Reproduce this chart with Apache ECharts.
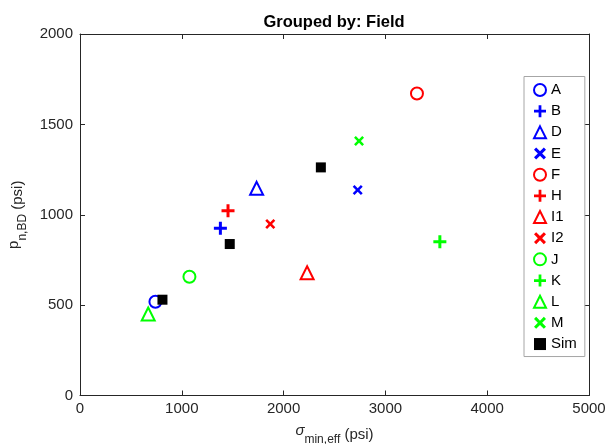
<!DOCTYPE html>
<html>
<head>
<meta charset="utf-8">
<script src="https://cdn.jsdelivr.net/npm/echarts@6/dist/echarts.min.js"></script>
<style>
  html, body { margin: 0; padding: 0; background: #fff; }
  #chart { width: 607px; height: 444px; }
</style>
</head>
<body>
<div id="chart"></div>
<script>
// field data
const fields = ['A', 'B', 'D', 'E', 'F', 'H', 'I1', 'I2', 'J', 'K', 'L', 'M'];
const sigmaEff = [741, 1379, 1735, 2728, 3310, 1454, 2231, 1869, 1075, 3535, 670, 2741];
const pnBD = [519, 925, 1146, 1137, 1671, 1022, 679, 949, 657, 851, 451, 1408];
// simulation points
const simSigma = [810, 1471, 2366];
const simPn = [530, 838, 1262];
const xTicks = [0, 1000, 2000, 3000, 4000, 5000];
const yTicks = [0, 500, 1000, 1500, 2000];

const PLUS = 'path://M3.85,0H6.15V3.85H10V6.15H6.15V10H3.85V6.15H0V3.85H3.85Z';
const CROSS = 'path://M0,1.8L1.8,0L5,3.2L8.2,0L10,1.8L6.8,5L10,8.2L8.2,10L5,6.8L1.8,10L0,8.2L3.2,5Z';
// marker style per field: MATLAB-ish colour / marker cycle
const markers = [
  ['emptyCircle', '#0000ff', 12], [PLUS, '#0000ff', 13], ['emptyTriangle', '#0000ff', 13], [CROSS, '#0000ff', 10],
  ['emptyCircle', '#ff0000', 12], [PLUS, '#ff0000', 13], ['emptyTriangle', '#ff0000', 13], [CROSS, '#ff0000', 10],
  ['emptyCircle', '#00ff00', 12], [PLUS, '#00ff00', 13], ['emptyTriangle', '#00ff00', 13], [CROSS, '#00ff00', 10]
];

const series = fields.map((name, i) => {
  const filled = markers[i][0].startsWith('path://');
  return {
    name: name,
    type: 'scatter',
    symbol: markers[i][0],
    symbolSize: markers[i][2],
    itemStyle: filled
      ? { color: markers[i][1], opacity: 1 }
      : { color: markers[i][1], borderColor: markers[i][1], borderWidth: 2, opacity: 1 },
    data: [[sigmaEff[i], pnBD[i]]]
  };
});
series.push({
  name: 'Sim',
  type: 'scatter',
  symbol: 'rect',
  symbolSize: 10,
  itemStyle: { color: '#000', opacity: 1 },
  data: simSigma.map((x, i) => [x, simPn[i]])
});

const font = 'Liberation Sans, Arial, Helvetica, sans-serif';
const axisCol = '#262626';

const chart = echarts.init(document.getElementById('chart'));
chart.setOption({
  animation: false,
  backgroundColor: '#fff',
  textStyle: { fontFamily: font },
  title: {
    text: 'Grouped by: Field',
    left: 329, top: 9, textAlign: 'center',
    textStyle: { fontSize: 16.5, fontWeight: 'bold', color: '#000', fontFamily: font }
  },
  grid: { left: 80, right: 18, top: 34, bottom: 48.5, containLabel: false, outerBoundsMode: 'none' },
  legend: {
    orient: 'vertical',
    left: 524, top: 76.5,
    padding: [6, 8, 5, 9],
    itemWidth: 12, itemHeight: 12, itemGap: 6.17,
    borderColor: '#a6a6a6', borderWidth: 1,
    backgroundColor: '#fff',
    textStyle: { fontSize: 15, lineHeight: 15, color: '#000', fontFamily: font },
    data: fields.concat(['Sim'])
  },
  xAxis: [{
    type: 'value', min: 0, max: 5000, interval: 1000,
    name: '{s|σ}{sub|min,eff} (psi)',
    nameLocation: 'middle', nameGap: 28,
    nameTextStyle: {
      fontSize: 15, color: axisCol, fontFamily: font,
      rich: {
        s: { fontSize: 15, fontStyle: 'italic', color: axisCol, lineHeight: 22, verticalAlign: 'top' },
        sub: { fontSize: 12, color: axisCol, lineHeight: 22, verticalAlign: 'bottom' }
      }
    },
    axisLine: { onZero: false, lineStyle: { color: axisCol } },
    axisTick: { inside: true, length: 5, lineStyle: { color: axisCol } },
    axisLabel: { fontSize: 15, color: axisCol, margin: 6, fontFamily: font,
      formatter: v => xTicks.includes(v) ? String(v) : '' },
    splitLine: { show: false }
  }, {
    type: 'value', min: 0, max: 5000, interval: 1000, position: 'top',
    axisLine: { onZero: false, lineStyle: { color: axisCol } },
    axisTick: { inside: true, length: 5, lineStyle: { color: axisCol } },
    axisLabel: { show: false }, splitLine: { show: false }
  }],
  yAxis: [{
    type: 'value', min: 0, max: 2000, interval: 500,
    name: '{n|p}{sub|n,BD} (psi)',
    nameLocation: 'middle', nameGap: 41,
    nameTextStyle: {
      fontSize: 15, color: axisCol, fontFamily: font,
      rich: {
        n: { fontSize: 15, color: axisCol, lineHeight: 22, verticalAlign: 'top' },
        sub: { fontSize: 12, color: axisCol, lineHeight: 22, verticalAlign: 'bottom' }
      }
    },
    axisLine: { onZero: false, lineStyle: { color: axisCol } },
    axisTick: { inside: true, length: 5, lineStyle: { color: axisCol } },
    axisLabel: { fontSize: 15, color: axisCol, margin: 7, fontFamily: font,
      formatter: v => yTicks.includes(v) ? String(v) : '' },
    splitLine: { show: false }
  }, {
    type: 'value', min: 0, max: 2000, interval: 500, position: 'right',
    axisLine: { onZero: false, lineStyle: { color: axisCol } },
    axisTick: { inside: true, length: 5, lineStyle: { color: axisCol } },
    axisLabel: { show: false }, splitLine: { show: false }
  }],
  series: series
});
</script>
</body>
</html>
